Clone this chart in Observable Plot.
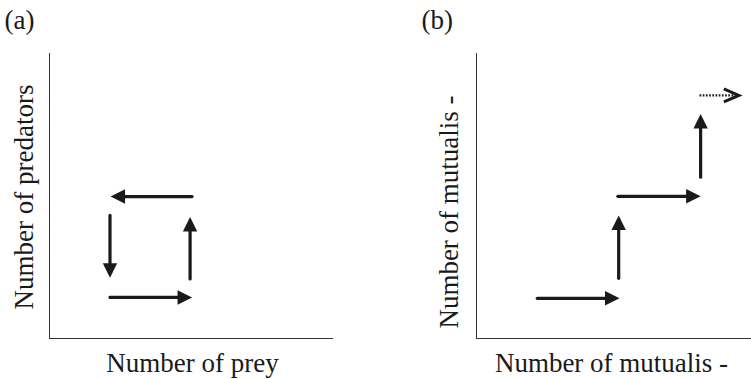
<!DOCTYPE html>
<html>
<head>
<meta charset="utf-8">
<script src="https://cdn.jsdelivr.net/npm/d3@7"></script>
<script src="https://cdn.jsdelivr.net/npm/@observablehq/plot@0.6"></script>
<style>
  body { margin: 0; background: #fff; }
  #wrap { position: relative; width: 751px; height: 379px; overflow: hidden; background: #fff; }
  #wrap > svg, #wrap > figure { position: absolute; top: 0; margin: 0; }
</style>
</head>
<body>
<div id="wrap"></div>
<script>
// ---- Data ----
const panelLabels = ["(a)", "(b)"];
const xLabels = ["Number of prey", "Number of mutualis -"];
const yLabels = ["Number of predators", "Number of mutualis -"];

// Panel (a): predator–prey cycle (arbitrary 0–100 units)
const cycleX1 = [50.2, 21.3, 21.3, 49.5];
const cycleY1 = [49.8, 43.2, 14.4, 20.9];
const cycleX2 = [21.5, 21.3, 50.2, 49.5];
const cycleY2 = [49.8, 21.3, 14.4, 42.6];
const cycleDotted = [false, false, false, false];

// Panel (b): mutualism staircase
const mutX1 = [22.1, 51.7, 51.4, 81.5, 81.1];
const mutY1 = [14.1, 21.1, 49.9, 56.6, 85.3];
const mutX2 = [52.0, 51.7, 81.5, 81.5, 95.4];
const mutY2 = [14.1, 43.2, 49.9, 78.8, 85.3];
const mutDotted = [false, false, false, false, true];

// ---- Build tables ----
function table(x1, y1, x2, y2, dotted) {
  return x1.map((_, i) => {
    const dx = x2[i] - x1[i], dy = y2[i] - y1[i];
    const dir = Math.abs(dx) > Math.abs(dy) ? (dx > 0 ? "right" : "left") : (dy > 0 ? "up" : "down");
    return {x1: x1[i], y1: y1[i], x2: x2[i], y2: y2[i], dotted: dotted[i], dir};
  });
}

const L = 14.5, W = 7.2; // arrowhead length & half-width (px)
const heads = {
  right: {draw(c) { c.moveTo(0, 0); c.lineTo(-L, -W); c.lineTo(-L, W); c.closePath(); }},
  left:  {draw(c) { c.moveTo(0, 0); c.lineTo(L, -W); c.lineTo(L, W); c.closePath(); }},
  up:    {draw(c) { c.moveTo(0, 0); c.lineTo(-W, L); c.lineTo(W, L); c.closePath(); }},
  down:  {draw(c) { c.moveTo(0, 0); c.lineTo(-W, -L); c.lineTo(W, -L); c.closePath(); }}
};
const chevron = {draw(c) { c.moveTo(-15, -6.5); c.lineTo(0, 0); c.lineTo(-15, 6.5); }};

const INK = "#1a1a1a";
const FONT = "'Liberation Serif', 'Times New Roman', Times, serif";

function panel({data, label, xLabel, yLabel, width, marginLeft, marginRight, pl, yl, xl}) {
  const solid = data.filter(d => !d.dotted);
  const dotted = data.filter(d => d.dotted);
  const marks = [
    Plot.ruleX([0], {stroke: "#333", strokeWidth: 1}),
    Plot.ruleY([0], {stroke: "#333", strokeWidth: 1}),
    Plot.arrow(solid, {x1: "x1", y1: "y1", x2: "x2", y2: "y2", headLength: 0, insetEnd: 11,
      stroke: INK, strokeWidth: 3.2, strokeLinecap: "round"}),
    Plot.arrow(dotted, {x1: "x1", y1: "y1", x2: "x2", y2: "y2", headLength: 0, insetEnd: 3,
      stroke: INK, strokeWidth: 2.4, strokeDasharray: "1.7,1.5", strokeLinecap: "butt"}),
    ...Object.keys(heads).map(dir =>
      Plot.dot(solid.filter(d => d.dir === dir), {x: "x2", y: "y2", symbol: heads[dir], fill: INK, stroke: "none"})
    ),
    Plot.dot(dotted, {x: "x2", y: "y2", symbol: chevron, fill: "none", stroke: INK, strokeWidth: 3,
      strokeLinejoin: "miter"}),
    Plot.text([label], {text: d => d, frameAnchor: "top-left", textAnchor: "start", lineAnchor: "bottom",
      dx: pl[0], dy: pl[1], fontSize: 27, fill: INK}),
    Plot.text([yLabel], {text: d => d, frameAnchor: "left", textAnchor: "middle", lineAnchor: "bottom",
      rotate: -90, dx: yl[0], dy: yl[1], fontSize: 27, fill: INK}),
    Plot.text([xLabel], {text: d => d, frameAnchor: "bottom", textAnchor: "middle", lineAnchor: "bottom",
      dx: xl[0], dy: xl[1], fontSize: 27, fill: INK})
  ];
  return Plot.plot({
    width, height: 379,
    marginLeft, marginRight, marginTop: 53, marginBottom: 41,
    x: {domain: [0, 100], axis: null},
    y: {domain: [0, 100], axis: null},
    style: {fontFamily: FONT, fontSize: "27px", background: "white", color: INK, overflow: "visible"},
    marks
  });
}

const wrap = document.getElementById("wrap");
const a = panel({
  data: table(cycleX1, cycleY1, cycleX2, cycleY2, cycleDotted),
  label: panelLabels[0], xLabel: xLabels[0], yLabel: yLabels[0],
  width: 376, marginLeft: 49, marginRight: 43,
  pl: [-45, -25], yl: [-17, 1], xl: [1, 33]
});
a.style.left = "0px";
wrap.appendChild(a);

const b = panel({
  data: table(mutX1, mutY1, mutX2, mutY2, mutDotted),
  label: panelLabels[1], xLabel: xLabels[1], yLabel: yLabels[1],
  width: 375, marginLeft: 100, marginRight: 0,
  pl: [-55, -25], yl: [-19, 16], xl: [-2.5, 33]
});
b.style.left = "376px";
wrap.appendChild(b);
</script>
</body>
</html>
